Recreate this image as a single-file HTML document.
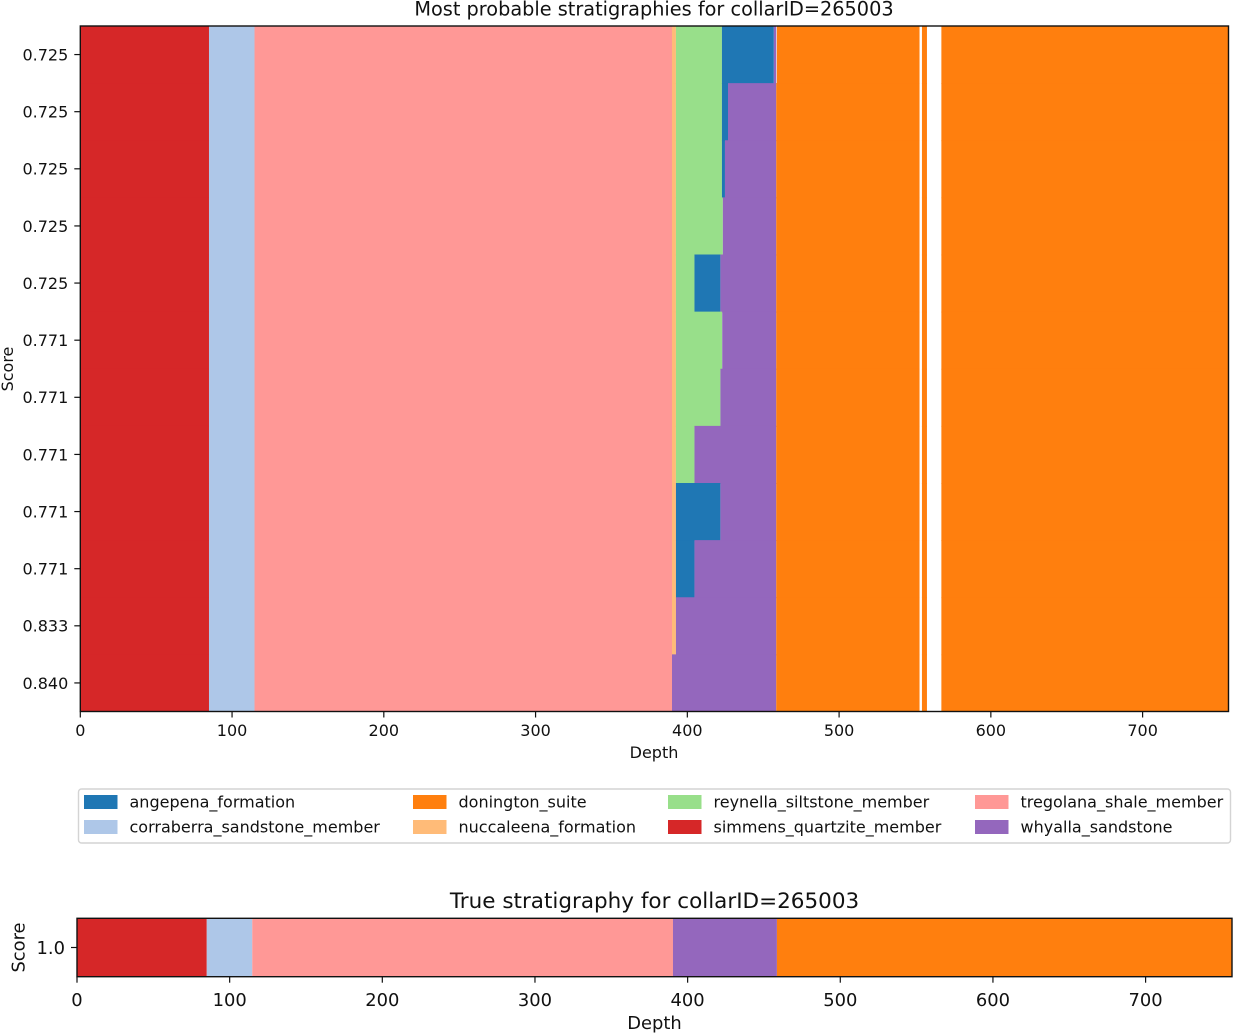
<!DOCTYPE html>
<html>
<head>
<meta charset="utf-8">
<title>Most probable stratigraphies for collarID=265003</title>
<style>
html,body{margin:0;padding:0;background:#fff;width:1234px;height:1034px;overflow:hidden}
svg{display:block}
text{font-family:"DejaVu Sans","Liberation Sans",sans-serif;fill:#111}
</style>
</head>
<body>
<svg id="figure" xmlns="http://www.w3.org/2000/svg" width="1234" height="1034" viewBox="0 0 1234 1034">
  <text x="654" y="15.5" font-size="19.3" text-anchor="middle">Most probable stratigraphies for collarID=265003</text>
  <g id="top-marks"></g>
  <g id="top-axes"></g>
  <text x="654" y="758" font-size="16" text-anchor="middle">Depth</text>
  <text transform="translate(13 369) rotate(-90)" font-size="16" text-anchor="middle">Score</text>
  <g id="legend"></g>
  <text x="654.5" y="908" font-size="21.5" text-anchor="middle">True stratigraphy for collarID=265003</text>
  <g id="bottom-marks"></g>
  <g id="bottom-axes"></g>
  <text x="654.5" y="1029" font-size="17.9" text-anchor="middle">Depth</text>
  <text transform="translate(24.5 947.5) rotate(-90)" font-size="17.9" text-anchor="middle">Score</text>
</svg>
<script>
const formations = ["angepena_formation","corraberra_sandstone_member","donington_suite","nuccaleena_formation","reynella_siltstone_member","simmens_quartzite_member","tregolana_shale_member","whyalla_sandstone"];
const depthTicks = [0,100,200,300,400,500,600,700];
const maxDepth = 756.6;
const scoreLabels = ["0.725","0.725","0.725","0.725","0.725","0.771","0.771","0.771","0.771","0.771","0.833","0.840"];

// Unit sequence per ranked stratigraphy (top row first). null = no data interval.
const S="simmens_quartzite_member",C="corraberra_sandstone_member",T="tregolana_shale_member",N="nuccaleena_formation",R="reynella_siltstone_member",A="angepena_formation",W="whyalla_sandstone",D="donington_suite";
const rowUnits = [
  [S,C,T,N,R,A,W,null,D,null,D,null,D],
  [S,C,T,N,R,A,W,D,null,D,null,D],
  [S,C,T,N,R,A,W,D,null,D,null,D],
  [S,C,T,N,R,W,D,null,D,null,D],
  [S,C,T,N,R,A,W,D,null,D,null,D],
  [S,C,T,N,R,W,D,null,D,null,D],
  [S,C,T,N,R,W,D,null,D,null,D],
  [S,C,T,N,R,W,D,null,D,null,D],
  [S,C,T,N,A,W,D,null,D,null,D],
  [S,C,T,N,A,W,D,null,D,null,D],
  [S,C,T,N,W,D,null,D,null,D],
  [S,C,T,W,D,null,D,null,D]
];
// Boundary depths matching rowUnits (one more value than units).
const rowDepths = [
  [0,84.8,114.8,389.9,392.5,422.8,457,458.6,459,553,554.6,557.9,567.4,756.6],
  [0,84.8,114.8,389.9,392.5,422.8,426.8,458.6,553,554.6,557.9,567.4,756.6],
  [0,84.8,114.8,389.9,392.5,422.8,424.8,458.6,553,554.6,557.9,567.4,756.6],
  [0,84.8,114.8,389.9,392.5,423.4,458.6,553,554.6,557.9,567.4,756.6],
  [0,84.8,114.8,389.9,392.5,404.7,421.8,458.6,553,554.6,557.9,567.4,756.6],
  [0,84.8,114.8,389.9,392.5,423.0,458.6,553,554.6,557.9,567.4,756.6],
  [0,84.8,114.8,389.9,392.5,421.8,458.6,553,554.6,557.9,567.4,756.6],
  [0,84.8,114.8,389.9,392.5,404.7,458.6,553,554.6,557.9,567.4,756.6],
  [0,84.8,114.8,389.9,392.5,421.8,458.6,553,554.6,557.9,567.4,756.6],
  [0,84.8,114.8,389.9,392.5,404.7,458.6,553,554.6,557.9,567.4,756.6],
  [0,84.8,114.8,389.9,392.5,458.6,553,554.6,557.9,567.4,756.6],
  [0,84.8,114.8,389.9,458.6,553,554.6,557.9,567.4,756.6]
];

const trueScoreLabels = ["1.0"];
const trueUnits = [S,C,T,W,D];
const trueDepths = [0,85,114.8,390.4,458.5,756.6];

const colorOf = {
  angepena_formation:"#1f77b4",corraberra_sandstone_member:"#aec7e8",donington_suite:"#ff7f0e",
  nuccaleena_formation:"#ffbb78",reynella_siltstone_member:"#98df8a",simmens_quartzite_member:"#d62728",
  tregolana_shale_member:"#ff9896",whyalla_sandstone:"#9467bd"
};
const NS = "http://www.w3.org/2000/svg";
function mk(parent, tag, attrs, txt){
  const el = document.createElementNS(NS, tag);
  for (const k in attrs) el.setAttribute(k, attrs[k]);
  if (txt !== undefined) el.textContent = txt;
  parent.appendChild(el);
  return el;
}
function drawChart(o){
  const x = d => o.left + d / maxDepth * (o.right - o.left);
  const band = (o.bottom - o.top) / o.labels.length;
  const y = i => o.top + i * band;
  const marks = document.getElementById(o.marksId);
  const axes = document.getElementById(o.axesId);
  o.units.forEach((units, r) => {
    const overlap = r < o.units.length - 1 ? 0.9 : 0;
    units.forEach((u, i) => {
      if (!u) return;
      const a = o.depths[r][i], b = o.depths[r][i + 1];
      const bar = mk(marks, "rect", {x: x(a), y: y(r), width: x(b) - x(a), height: band + overlap, fill: colorOf[u]});
      
      
    });
  });
  const frame = mk(axes, "rect", {x: o.left, y: o.top, width: o.right - o.left, height: o.bottom - o.top, fill: "none", stroke: "#111", "stroke-width": 1.4});
  
  
  depthTicks.forEach(t => {
    const line = mk(axes, "line", {x1: x(t), x2: x(t), y1: o.bottom, y2: o.bottom + 6, stroke: "#111", "stroke-width": 1.2});
    
    
    const lab = mk(axes, "text", {x: x(t), y: o.xLabelY, "font-size": o.font, "text-anchor": "middle"}, String(t));
    
    
  });
  o.labels.forEach((s, i) => {
    const cy = y(i) + band / 2;
    const line = mk(axes, "line", {x1: o.left - 6, x2: o.left, y1: cy, y2: cy, stroke: "#111", "stroke-width": 1.2});
    
    
    const lab = mk(axes, "text", {x: o.left - 12, y: cy + o.font * 0.364, "font-size": o.font, "text-anchor": "end"}, s);
    
    
  });
}
drawChart({marksId:"top-marks",axesId:"top-axes",left:80.3,right:1228.5,top:26,bottom:711.5,labels:scoreLabels,units:rowUnits,depths:rowDepths,font:16,xLabelY:736});
drawChart({marksId:"bottom-marks",axesId:"bottom-axes",left:77,right:1232,top:918.3,bottom:976.7,labels:trueScoreLabels,units:[trueUnits],depths:[trueDepths],font:17.9,xLabelY:1006});

const legendG = document.getElementById("legend");
const legendBox = mk(legendG, "rect", {x: 78.5, y: 789, width: 1152, height: 54, rx: 3, fill: "#fff", stroke: "#d4d4d4", "stroke-width": 1.4});


const legendColumnsX = [84, 413, 668, 975];
formations.forEach((f, i) => {
  const col = Math.floor(i / 2), row = i % 2;
  const px = legendColumnsX[col], py = 795 + row * 25;
  const swatch = mk(legendG, "rect", {x: px, y: py, width: 33.5, height: 14, fill: colorOf[f]});
  
  
  const label = mk(legendG, "text", {x: px + 45.5, y: py + 12.5, "font-size": 16}, f);
  
  
});
</script>
</body>
</html>
